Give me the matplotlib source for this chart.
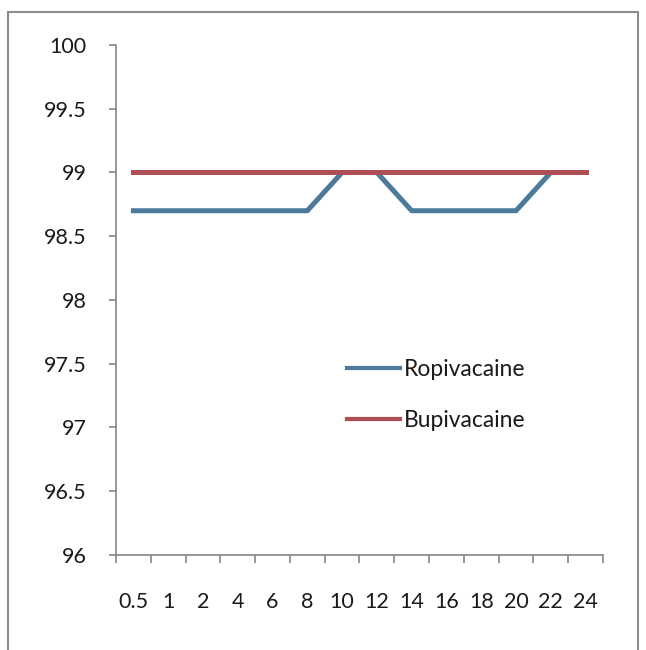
import matplotlib
matplotlib.use("Agg")
import matplotlib.pyplot as plt
from matplotlib.patches import Rectangle

hours = ["0.5", "1", "2", "4", "6", "8", "10", "12", "14", "16", "18", "20", "22", "24"]
ropivacaine = [98.7, 98.7, 98.7, 98.7, 98.7, 98.7, 99, 99, 98.7, 98.7, 98.7, 98.7, 99, 99]
bupivacaine = [99, 99, 99, 99, 99, 99, 99, 99, 99, 99, 99, 99, 99, 99]
y_ticks = [96, 96.5, 97, 97.5, 98, 98.5, 99, 99.5, 100]

plt.rcParams['font.family'] = ['Lato', 'DejaVu Sans']

fig = plt.figure(figsize=(6.46, 6.5), dpi=100)
ax = fig.add_axes([0.1796, 0.1462, 0.7538, 0.7846])

x = list(range(len(hours)))
ax.plot(x, ropivacaine, color="#4B7A9A", lw=3.6, label="Ropivacaine")
ax.plot(x, bupivacaine, color="#AE4F53", lw=3.6, label="Bupivacaine")

ax.set_xlim(-0.5, len(hours) - 0.5)
ax.set_ylim(96, 100)
ax.set_yticks(y_ticks)
ax.set_yticklabels([f"{v:g}" for v in y_ticks])
ax.set_xticks(x)
ax.set_xticklabels(hours)
ax.set_xticks([i - 0.5 for i in range(len(hours) + 1)], minor=True)

axis_col = "#868686"
for s in ["top", "right"]:
    ax.spines[s].set_visible(False)
for s in ["left", "bottom"]:
    ax.spines[s].set_color(axis_col)
    ax.spines[s].set_linewidth(1.2)

ax.tick_params(axis="y", direction="out", length=5, width=1.2, color=axis_col,
               labelsize=15.5, pad=16, labelcolor="#1a1a1a")
ax.tick_params(axis="x", which="major", length=0, labelsize=15.5, pad=27, labelcolor="#1a1a1a")
ax.tick_params(axis="x", which="minor", direction="out", length=6, width=1.2, color=axis_col)

leg = ax.legend(loc="center left", bbox_to_anchor=(0.537, 0.392), bbox_transform=fig.transFigure,
                frameon=False, fontsize=16.5, handlelength=2.3, handletextpad=0.18,
                labelspacing=1.3, borderpad=0, borderaxespad=0)
for t in leg.get_texts():
    t.set_color("#1a1a1a")
for h in leg.get_lines():
    h.set_linewidth(3)

fig.patches.append(Rectangle((0.0124, -0.02), 0.9752, 1.0015, transform=fig.transFigure,
                             fill=False, edgecolor="#8C8C8C", lw=1.5, clip_on=False))

fig.savefig("out.png", dpi=100)
